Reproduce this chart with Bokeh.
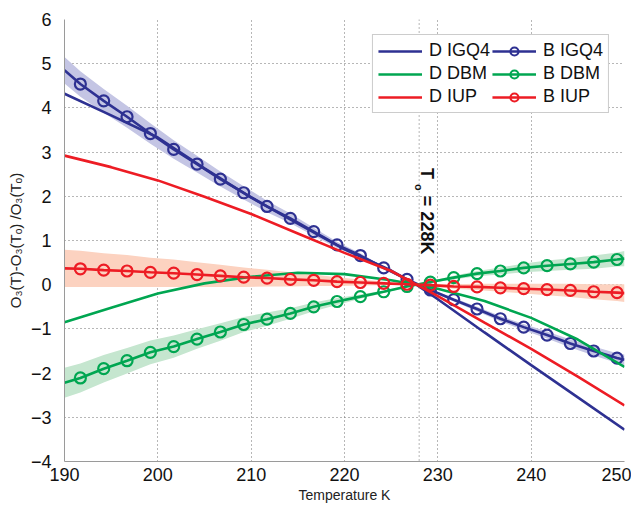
import numpy as np
from math import pi
from bokeh.plotting import figure
from bokeh.models import Span, Label, Legend, LegendItem, FixedTicker
from bokeh.embed import file_html
from bokeh.resources import INLINE

# ---------------- data ----------------
X_TICKS = [190, 200, 210, 220, 230, 240, 250]
Y_TICKS = [-4, -3, -2, -1, 0, 1, 2, 3, 4, 5, 6]
T0 = 228

# temperatures of the "B" curves (line end points and marker positions)
T_B = [190.0, 191.7, 194.2, 196.7, 199.2, 201.7, 204.2, 206.7, 209.2, 211.7,
       214.2, 216.7, 219.2, 221.7, 224.2, 226.7, 229.2, 231.7, 234.2, 236.7,
       239.2, 241.7, 244.2, 246.7, 249.2, 250.0]

B_IGQ4 = [4.85, 4.54, 4.16, 3.80, 3.42, 3.06, 2.73, 2.39, 2.08, 1.77,
          1.50, 1.20, 0.90, 0.66, 0.38, 0.12, -0.12, -0.34, -0.55, -0.77,
          -0.96, -1.14, -1.33, -1.50, -1.66, -1.70]
B_DBM = [-2.22, -2.11, -1.90, -1.72, -1.53, -1.40, -1.23, -1.07, -0.90, -0.78,
         -0.65, -0.50, -0.38, -0.27, -0.16, -0.04, 0.06, 0.16, 0.25, 0.31,
         0.38, 0.43, 0.47, 0.51, 0.57, 0.59]
B_IUP = [0.37, 0.36, 0.33, 0.31, 0.28, 0.26, 0.23, 0.20, 0.17, 0.15,
         0.12, 0.10, 0.07, 0.05, 0.03, 0.01, -0.01, -0.04, -0.05, -0.07,
         -0.09, -0.11, -0.13, -0.16, -0.18, -0.19]

# half widths of the uncertainty bands of the "B" curves
ERR_IGQ4 = [0.30, 0.29, 0.27, 0.25, 0.23, 0.21, 0.19, 0.17, 0.15, 0.13,
            0.11, 0.09, 0.07, 0.05, 0.03, 0.01, 0.02, 0.04, 0.05, 0.06,
            0.07, 0.08, 0.09, 0.10, 0.11, 0.12]
ERR_DBM = [0.34, 0.33, 0.31, 0.29, 0.27, 0.25, 0.22, 0.20, 0.17, 0.15,
           0.12, 0.10, 0.08, 0.05, 0.03, 0.01, 0.02, 0.04, 0.06, 0.08,
           0.10, 0.12, 0.13, 0.15, 0.16, 0.17]
ERR_IUP = [0.42, 0.41, 0.38, 0.36, 0.33, 0.31, 0.28, 0.25, 0.22, 0.19,
           0.16, 0.13, 0.10, 0.07, 0.04, 0.01, 0.03, 0.05, 0.07, 0.09,
           0.11, 0.13, 0.15, 0.17, 0.19, 0.20]

# "D" curves
T_D = [190, 195, 200, 205, 210, 215, 220, 225, 227.7, 230, 235, 240, 245, 250]
D_IGQ4 = [4.32, 3.83, 3.33, 2.63, 1.97, 1.38, 0.80, 0.32, 0.0, -0.33, -1.08, -1.82, -2.55, -3.28]
D_DBM = [-0.85, -0.52, -0.20, 0.03, 0.18, 0.27, 0.24, 0.10, 0.0, -0.09, -0.37, -0.75, -1.24, -1.86]
D_IUP = [2.92, 2.66, 2.36, 1.99, 1.60, 1.16, 0.72, 0.31, 0.0, -0.26, -0.86, -1.45, -2.08, -2.73]

NAMES = ["IGQ4", "DBM", "IUP"]
COLORS = ["#2e3192", "#00a651", "#ed1c24"]
BAND_COLORS = ["#c4c5e4", "#c5e6cf", "#fcd2c0"]

FONT = "Liberation Sans"

# ---------------- figure ----------------
p = figure(width=631, height=505, x_range=(190, 250), y_range=(-4, 6),
           output_backend="svg", toolbar_location=None,
           min_border_left=64, min_border_right=7, min_border_top=19,
           min_border_bottom=39)
p.outline_line_color = None
p.background_fill_color = "white"

p.xaxis.ticker = FixedTicker(ticks=X_TICKS)
p.yaxis.ticker = FixedTicker(ticks=Y_TICKS)
for g in (p.xgrid, p.ygrid):
    g.grid_line_color = "#6e6e6e"
    g.grid_line_dash = "1 3"
    g.grid_line_width = 1

for ax in (p.xaxis, p.yaxis):
    ax.axis_line_color = "#9a9a9a"
    ax.axis_line_width = 1
    ax.major_tick_line_color = None
    ax.minor_tick_line_color = None
    ax.major_label_text_font = FONT
    ax.major_label_text_font_size = "18px"
    ax.major_label_text_color = "#111111"
    ax.axis_label_text_font = FONT
    ax.axis_label_text_font_style = "normal"
    ax.axis_label_text_color = "#222222"

p.xaxis.major_label_standoff = 0
p.yaxis.major_label_standoff = 7
p.xaxis.axis_label = "Temperature K"
p.xaxis.axis_label_text_font_size = "14px"
p.xaxis.axis_label_standoff = 3
p.yaxis.axis_label = "O\u2083(T)-O\u2083(T\u2092) /O\u2083(T\u2092)"
p.yaxis.axis_label_text_font_size = "15px"
p.yaxis.axis_label_standoff = 4

p.add_layout(Span(location=T0, dimension="height", line_color="#6e6e6e",
                  line_dash="1 3", line_width=1))

# bands
tb = np.array(T_B)
for vals, err, bc in zip([B_IGQ4, B_DBM, B_IUP], [ERR_IGQ4, ERR_DBM, ERR_IUP], BAND_COLORS):
    v = np.array(vals)
    e = np.array(err)
    p.varea(x=tb, y1=v - e, y2=v + e, fill_color=bc, fill_alpha=1.0)

d_items = []
b_items = []
for name, dvals, bvals, col in zip(NAMES, [D_IGQ4, D_DBM, D_IUP], [B_IGQ4, B_DBM, B_IUP], COLORS):
    rd = p.line(T_D, dvals, line_color=col, line_width=2.6)
    rb = p.line(T_B, bvals, line_color=col, line_width=2.6)
    rm = p.scatter(T_B[1:-1], bvals[1:-1], marker="circle", size=11,
                   line_color=col, line_width=2.2, fill_color=None)
    d_items.append(LegendItem(label="D " + name, renderers=[rd]))
    b_items.append(LegendItem(label="B " + name, renderers=[rb, rm]))

legend = Legend(items=d_items + b_items, location="top_right", ncols=2,
                label_text_font=FONT, label_text_font_size="18px",
                label_text_color="#111111",
                glyph_width=44, glyph_height=20, label_standoff=7,
                label_height=20, spacing=2, padding=5, margin=15,
                border_line_color="#9a9a9a", border_line_width=1,
                background_fill_color="white", background_fill_alpha=1.0)
p.add_layout(legend)

# annotation T_o = 228K (rotated, reading downwards)
ann_font = "Liberation Sans"
p.add_layout(Label(x=T0, y=2.64, text="T", angle=-pi / 2, x_offset=8,
                   text_font=ann_font, text_font_size="18px", text_font_style="bold",
                   text_align="left", text_baseline="alphabetic", text_color="#111111"))
p.add_layout(Label(x=T0, y=2.28, text="o", angle=-pi / 2, x_offset=0,
                   text_font=ann_font, text_font_size="11px", text_font_style="bold",
                   text_align="left", text_baseline="alphabetic", text_color="#111111"))
p.add_layout(Label(x=T0, y=2.01, text="= 228K", angle=-pi / 2, x_offset=8,
                   text_font=ann_font, text_font_size="18px", text_font_style="bold",
                   text_align="left", text_baseline="alphabetic", text_color="#111111"))

open("out.html", "w").write(file_html(p, INLINE))
